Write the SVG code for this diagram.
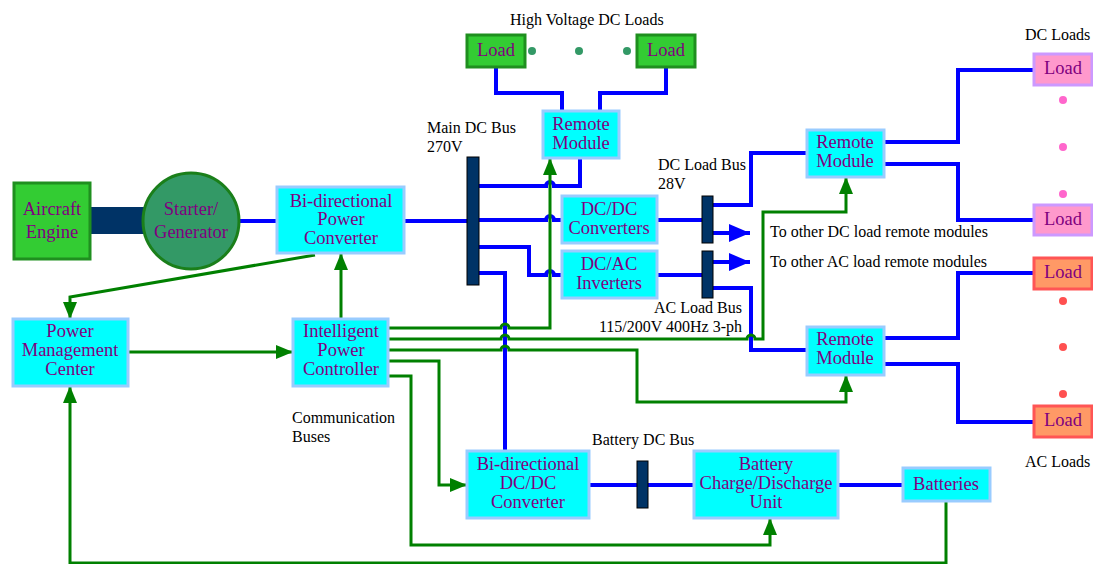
<svg xmlns="http://www.w3.org/2000/svg" width="1093" height="564" viewBox="0 0 1093 564">
<style>
.box{fill:#00ffff;stroke:#99ccff;stroke-width:3}
.bus{fill:#003366;stroke:#000;stroke-width:1}
.ld{fill:#33cc33;stroke:#1f8f1f;stroke-width:3}
.dcl{fill:#ff99cc;stroke:#cc99ff;stroke-width:3}
.acl{fill:#ff9966;stroke:#ff5555;stroke-width:3}
.t{font-family:"Liberation Serif","Times New Roman",serif;font-size:18.5px;fill:#800080;text-anchor:middle}
.lb{font-family:"Liberation Serif","Times New Roman",serif;font-size:16px;fill:#000}
.bl{fill:none;stroke:#0000ff;stroke-width:4}
.gr{fill:none;stroke:#008000;stroke-width:3}
</style>
<defs>
<marker id="ga" markerUnits="userSpaceOnUse" markerWidth="18" markerHeight="14" refX="17" refY="7" orient="auto"><path d="M0,0 L17,7 L0,14 z" fill="#008000"/></marker>
<marker id="ba" markerUnits="userSpaceOnUse" markerWidth="22" markerHeight="18" refX="21" refY="9" orient="auto"><path d="M0,0 L21,9 L0,18 z" fill="#0000ff"/></marker>
</defs>

<g id="connectors">
<!-- shaft -->
<rect x="90" y="207" width="54" height="27" fill="#003366"/>
<!-- blue power lines -->
<path class="bl" d="M238,221 H277"/>
<path class="bl" d="M404,221 H467"/>
<path class="bl" d="M479,186 H546 a4,4 0 0 1 8,0 H580 V158"/>
<path class="bl" d="M479,220 H546 a4,4 0 0 1 8,0 H562"/>
<path class="bl" d="M479,247 H529 V275 H546 a4,4 0 0 1 8,0 H562"/>
<path class="bl" d="M479,273 H505 V451"/>
<path class="bl" d="M496,67 V93 H562 V111"/>
<path class="bl" d="M666,67 V93 H600 V111"/>
<path class="bl" d="M657,220 H702"/>
<path class="bl" d="M657,275 H702"/>
<path class="bl" d="M713,233 H750" marker-end="url(#ba)"/>
<path class="bl" d="M713,262 H750" marker-end="url(#ba)"/>
<path class="bl" d="M713,205 H751 V153 H807"/>
<path class="bl" d="M713,288 H751 V350 H807"/>
<path class="bl" d="M884,142 H958 V70 H1033"/>
<path class="bl" d="M884,164 H958 V220 H1033"/>
<path class="bl" d="M884,338 H958 V273 H1033"/>
<path class="bl" d="M884,364 H958 V422 H1033"/>
<path class="bl" d="M589,485 H637"/>
<path class="bl" d="M648,485 H694"/>
<path class="bl" d="M838,485 H903"/>
<!-- green communication lines -->
<path class="gr" d="M315,255 L70,297 V319" marker-end="url(#ga)"/>
<path class="gr" d="M341,319 V253" marker-end="url(#ga)"/>
<path class="gr" d="M128,352 H293" marker-end="url(#ga)"/>
<path class="gr" d="M388,328 H501 a4,4 0 0 1 8,0 H550 V158" marker-end="url(#ga)"/>
<path class="gr" d="M388,339 H501 a4,4 0 0 1 8,0 H747 a4,4 0 0 1 8,0 H763 V212 H846 V177" marker-end="url(#ga)"/>
<path class="gr" d="M388,350 H501 a4,4 0 0 1 8,0 H637 V402 H846 V375" marker-end="url(#ga)"/>
<path class="gr" d="M388,361 H439 V485 H467" marker-end="url(#ga)"/>
<path class="gr" d="M388,376 H411 V545 H770 V518" marker-end="url(#ga)"/>
<path class="gr" d="M946,501 V563 H70 V386" marker-end="url(#ga)"/>
</g>

<g id="aircraft-engine"><rect class="ld" x="14" y="183" width="76" height="76"/><text class="t" x="52" y="215">Aircraft</text><text class="t" x="52" y="238">Engine</text></g>
<g id="starter-generator"><circle cx="191" cy="221" r="48" fill="#339966" stroke="#1a7f1a" stroke-width="3"/><text class="t" x="191" y="215">Starter/</text><text class="t" x="191" y="238">Generator</text></g>
<g id="bidir-power-converter"><rect class="box" x="277" y="187" width="127" height="66"/><text class="t" x="341" y="207">Bi-directional</text><text class="t" x="341" y="225">Power</text><text class="t" x="341" y="244">Converter</text></g>
<g id="main-dc-bus"><rect class="bus" x="467" y="157" width="12" height="128"/><text class="lb" x="427" y="133">Main DC Bus</text><text class="lb" x="427" y="152">270V</text></g>
<g id="hv-load-1"><rect class="ld" x="467" y="35" width="58" height="32"/><text class="t" x="496" y="56">Load</text></g>
<g id="hv-load-2"><rect class="ld" x="637" y="35" width="58" height="32"/><text class="t" x="666" y="56">Load</text></g>
<g id="hv-dots" fill="#339966"><circle cx="532" cy="51" r="4"/><circle cx="579" cy="51" r="4"/><circle cx="627" cy="51" r="4"/></g>
<text class="lb" x="510" y="25">High Voltage DC Loads</text>
<g id="remote-module-hv"><rect class="box" x="543" y="111" width="76" height="47"/><text class="t" x="581" y="130">Remote</text><text class="t" x="581" y="149">Module</text></g>
<g id="dcdc-converters"><rect class="box" x="562" y="196" width="95" height="47"/><text class="t" x="609" y="215">DC/DC</text><text class="t" x="609" y="234">Converters</text></g>
<g id="dcac-inverters"><rect class="box" x="562" y="251" width="95" height="47"/><text class="t" x="609" y="270">DC/AC</text><text class="t" x="609" y="289">Inverters</text></g>
<g id="dc-load-bus"><rect class="bus" x="702" y="196" width="11" height="47"/><text class="lb" x="658" y="170">DC Load Bus</text><text class="lb" x="658" y="189">28V</text></g>
<g id="ac-load-bus"><rect class="bus" x="702" y="251" width="11" height="47"/><text class="lb" x="742" y="313" text-anchor="end">AC Load Bus</text><text class="lb" x="742" y="332" text-anchor="end">115/200V 400Hz 3-ph</text></g>
<text class="lb" x="770" y="237">To other DC load remote modules</text>
<text class="lb" x="770" y="267">To other AC load remote modules</text>
<g id="remote-module-dc"><rect class="box" x="807" y="130" width="77" height="47"/><text class="t" x="845" y="148">Remote</text><text class="t" x="845" y="167">Module</text></g>
<g id="remote-module-ac"><rect class="box" x="807" y="327" width="77" height="48"/><text class="t" x="845" y="345">Remote</text><text class="t" x="845" y="364">Module</text></g>
<text class="lb" x="1025" y="40">DC Loads</text>
<g id="dc-load-1"><rect class="dcl" x="1034" y="54" width="58" height="31"/><text class="t" x="1063" y="74">Load</text></g>
<g id="dc-load-2"><rect class="dcl" x="1034" y="205" width="58" height="30"/><text class="t" x="1063" y="225">Load</text></g>
<g id="dc-dots" fill="#ff66cc"><circle cx="1063" cy="100" r="4"/><circle cx="1063" cy="147" r="4"/><circle cx="1063" cy="194" r="4"/></g>
<g id="ac-load-1"><rect class="acl" x="1034" y="258" width="58" height="31"/><text class="t" x="1063" y="278">Load</text></g>
<g id="ac-load-2"><rect class="acl" x="1034" y="406" width="58" height="31"/><text class="t" x="1063" y="426">Load</text></g>
<g id="ac-dots" fill="#ff5050"><circle cx="1063" cy="301" r="4"/><circle cx="1063" cy="347" r="4"/><circle cx="1063" cy="394" r="4"/></g>
<text class="lb" x="1025" y="467">AC Loads</text>
<g id="power-management-center"><rect class="box" x="13" y="319" width="115" height="67"/><text class="t" x="70" y="337">Power</text><text class="t" x="70" y="356">Management</text><text class="t" x="70" y="375">Center</text></g>
<g id="intelligent-power-controller"><rect class="box" x="293" y="319" width="95" height="67"/><text class="t" x="341" y="337">Intelligent</text><text class="t" x="341" y="356">Power</text><text class="t" x="341" y="375">Controller</text></g>
<text class="lb" x="292" y="423">Communication</text>
<text class="lb" x="292" y="442">Buses</text>
<g id="bidir-dcdc-converter"><rect class="box" x="467" y="451" width="122" height="67"/><text class="t" x="528" y="470">Bi-directional</text><text class="t" x="528" y="489">DC/DC</text><text class="t" x="528" y="508">Converter</text></g>
<g id="battery-dc-bus"><rect class="bus" x="637" y="461" width="11" height="47"/><text class="lb" x="592" y="445">Battery DC Bus</text></g>
<g id="battery-unit"><rect class="box" x="694" y="451" width="144" height="67"/><text class="t" x="766" y="470">Battery</text><text class="t" x="766" y="489">Charge/Discharge</text><text class="t" x="766" y="508">Unit</text></g>
<g id="batteries"><rect class="box" x="903" y="468" width="87" height="33"/><text class="t" x="946" y="490">Batteries</text></g>
</svg>
